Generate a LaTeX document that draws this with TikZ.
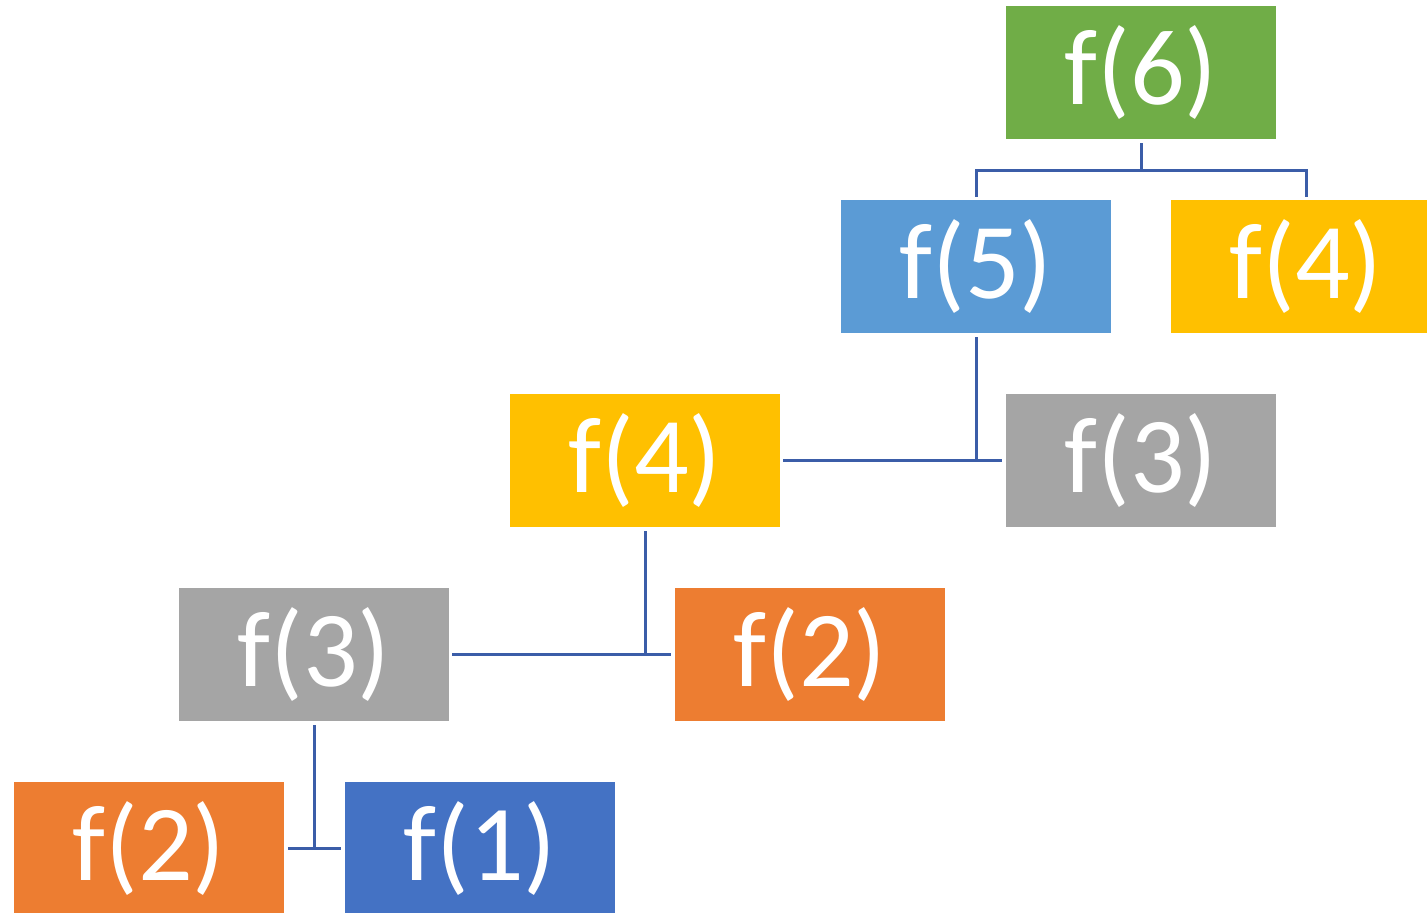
\documentclass[tikz,border=0pt]{standalone}
\usepackage{fontspec}
\setmainfont{Carlito}
\definecolor{cgreen}{HTML}{70AD47}
\definecolor{cblue}{HTML}{5B9BD5}
\definecolor{cgold}{HTML}{FFC000}
\definecolor{cgray}{HTML}{A5A5A5}
\definecolor{corange}{HTML}{ED7D31}
\definecolor{cdblue}{HTML}{4472C4}
\definecolor{cline}{HTML}{3B5DA8}
\tikzset{
  fbox/.style={fill=#1, draw=none, inner sep=0pt, minimum width=135pt,
    text height=49pt, text depth=17.5pt, text=white,
    font=\fontsize{54pt}{60pt}\selectfont},
  conn/.style={draw=cline, line width=1.5pt}
}
\begin{document}
\begin{tikzpicture}[x=0.5pt,y=-0.5pt]
\clip (0,0) rectangle (1427,912);
\fill[white] (0,0) rectangle (1427,912);
\node[fbox=cgreen]  (f6)  at (1141,72.5)  {f(6)};
\node[fbox=cblue]   (f5)  at (976,266.5)  {f(5)};
\node[fbox=cgold]   (f4r) at (1306,266.5) {f(4)};
\node[fbox=cgold]   (f4m) at (645,460.5)  {f(4)};
\node[fbox=cgray]   (f3r) at (1141,460.5) {f(3)};
\node[fbox=cgray]   (f3l) at (314,654.5)  {f(3)};
\node[fbox=corange] (f2m) at (810,654.5)  {f(2)};
\node[fbox=corange] (f2b) at (149,848.5)  {f(2)};
\node[fbox=cdblue]  (f1)  at (480,848.5)  {f(1)};
% f6 -> f5, f4
\draw[conn] ([yshift=-2pt]f6.south) -- ([yshift=-15.5pt]f6.south);
\draw[conn] ([yshift=1.5pt]f5.north) |- ([yshift=-15.5pt]f6.south) -| ([yshift=1.5pt]f4r.north);
% f5 -> f4, f3
\draw[conn] ([xshift=1.5pt]f4m.east) -- ([xshift=-2pt]f3r.west);
\draw[conn] ([yshift=-2pt]f5.south) -- (f5.south |- f4m.east);
% f4 -> f3, f2
\draw[conn] ([xshift=1.5pt]f3l.east) -- ([xshift=-2pt]f2m.west);
\draw[conn] ([yshift=-2pt]f4m.south) -- (f4m.south |- f3l.east);
% f3 -> f2, f1
\draw[conn] ([xshift=2pt]f2b.east) -- ([xshift=-2pt]f1.west);
\draw[conn] ([yshift=-2pt]f3l.south) -- (f3l.south |- f2b.east);
\end{tikzpicture}
\end{document}
